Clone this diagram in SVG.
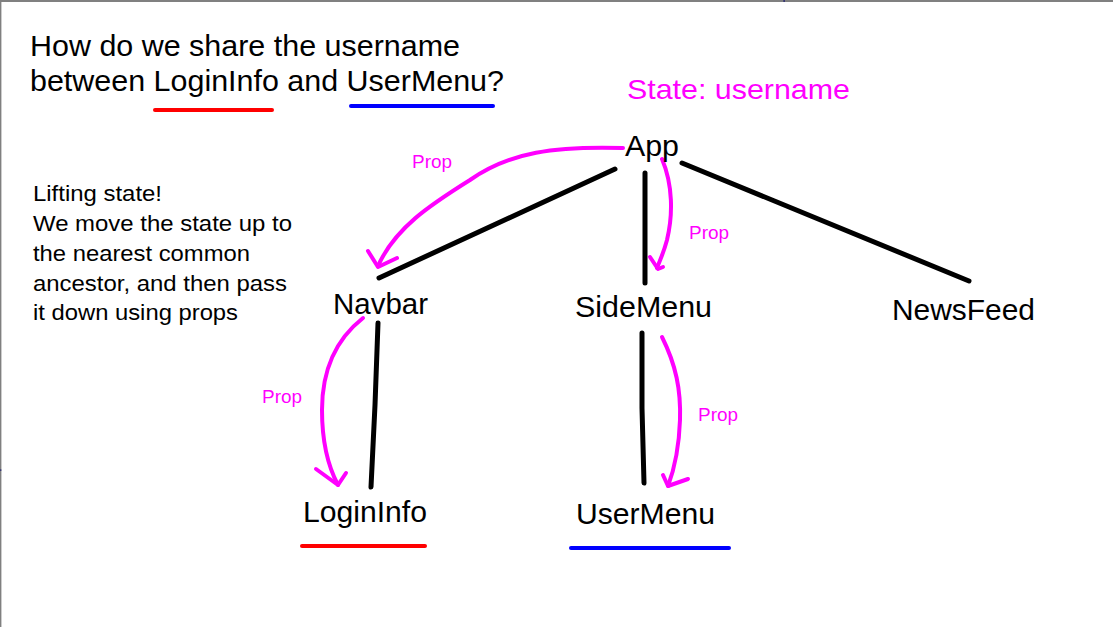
<svg xmlns="http://www.w3.org/2000/svg" width="1113" height="627" viewBox="0 0 1113 627">
<style>
text{font-family:"Liberation Sans",Arial,sans-serif;}
.title{font-size:29px;fill:#000;}
.node{font-size:30px;fill:#000;}
.note{font-size:22px;fill:#000;}
.state{font-size:28px;fill:#ff00ff;}
.prop{font-size:18px;fill:#ff00ff;}
.edge{stroke:#000;stroke-width:5;stroke-linecap:round;stroke-linejoin:round;fill:none;}
.flow{stroke:#ff00ff;stroke-width:4;stroke-linecap:round;stroke-linejoin:round;fill:none;}
.ul{stroke-width:4;stroke-linecap:round;fill:none;}
</style>
<rect x="0" y="0" width="1113" height="627" fill="#ffffff"/>
<rect x="0" y="0" width="1113" height="2" fill="#808080"/>
<rect x="0" y="0" width="1.4" height="627" fill="#808080"/>
<rect x="783.5" y="0" width="1.2" height="2" fill="#1a1a6e"/>
<rect x="0" y="469.5" width="1.4" height="1.2" fill="#1a1a6e"/>

<g id="title">
<text class="title" x="30" y="56" textLength="430" lengthAdjust="spacingAndGlyphs">How do we share the username</text>
<text class="title" x="30" y="91" textLength="474" lengthAdjust="spacingAndGlyphs">between LoginInfo and UserMenu?</text>
<line class="ul" x1="155" y1="110" x2="272" y2="110" stroke="#ff0000"/>
<line class="ul" x1="351" y1="106" x2="493" y2="106" stroke="#0000ff"/>
</g>

<g id="note">
<text class="note" x="33" y="201" textLength="129" lengthAdjust="spacingAndGlyphs">Lifting state!</text>
<text class="note" x="33" y="231" textLength="259" lengthAdjust="spacingAndGlyphs">We move the state up to</text>
<text class="note" x="33" y="261" textLength="217" lengthAdjust="spacingAndGlyphs">the nearest common</text>
<text class="note" x="33" y="291" textLength="254" lengthAdjust="spacingAndGlyphs">ancestor, and then pass</text>
<text class="note" x="33" y="320" textLength="205" lengthAdjust="spacingAndGlyphs">it down using props</text>
</g>

<g id="state">
<text class="state" x="627" y="99" textLength="223" lengthAdjust="spacingAndGlyphs">State: username</text>
</g>

<g id="connectors">
<line class="edge" x1="615" y1="169" x2="379" y2="278"/>
<line class="edge" x1="645" y1="173" x2="645" y2="283"/>
<line class="edge" x1="682" y1="163" x2="969" y2="281"/>
<polyline class="edge" points="378,323 375,405 371,487"/>
<polyline class="edge" points="642,333 642,408 644,483"/>

<path class="flow" d="M623,148 C555,146 510,152 470,180 C430,205 395,228 378,266"/>
<polyline class="flow" points="368,251 378,267 397,258"/>
<path class="flow" d="M662,159 C673,185 673,215 667,240 C663,255 659,262 657,268"/>
<polyline class="flow" points="650,257 658,269 663,267"/>
<path class="flow" d="M363,318 C335,340 322,370 322,410 C322,445 330,470 338,485"/>
<polyline class="flow" points="316,469 338,485 346,473"/>
<path class="flow" d="M662,337 C676,365 681,390 680,420 C679,450 674,470 668,486"/>
<polyline class="flow" points="663,475 668,486 688,479"/>

<text class="prop" x="412" y="168" textLength="40" lengthAdjust="spacingAndGlyphs">Prop</text>
<text class="prop" x="689" y="239" textLength="40" lengthAdjust="spacingAndGlyphs">Prop</text>
<text class="prop" x="262" y="403" textLength="40" lengthAdjust="spacingAndGlyphs">Prop</text>
<text class="prop" x="698" y="421" textLength="40" lengthAdjust="spacingAndGlyphs">Prop</text>
</g>

<g id="node-app"><text class="node" x="625" y="156" textLength="54" lengthAdjust="spacingAndGlyphs">App</text></g>
<g id="node-navbar"><text class="node" x="333" y="314" textLength="95" lengthAdjust="spacingAndGlyphs">Navbar</text></g>
<g id="node-sidemenu"><text class="node" x="575" y="317" textLength="137" lengthAdjust="spacingAndGlyphs">SideMenu</text></g>
<g id="node-newsfeed"><text class="node" x="892" y="320" textLength="143" lengthAdjust="spacingAndGlyphs">NewsFeed</text></g>
<g id="node-logininfo">
<text class="node" x="303" y="522" textLength="124" lengthAdjust="spacingAndGlyphs">LoginInfo</text>
<line class="ul" x1="302" y1="546" x2="425" y2="546" stroke="#ff0000"/>
</g>
<g id="node-usermenu">
<text class="node" x="576" y="524" textLength="139" lengthAdjust="spacingAndGlyphs">UserMenu</text>
<line class="ul" x1="571" y1="548" x2="729" y2="548" stroke="#0000ff"/>
</g>
</svg>
